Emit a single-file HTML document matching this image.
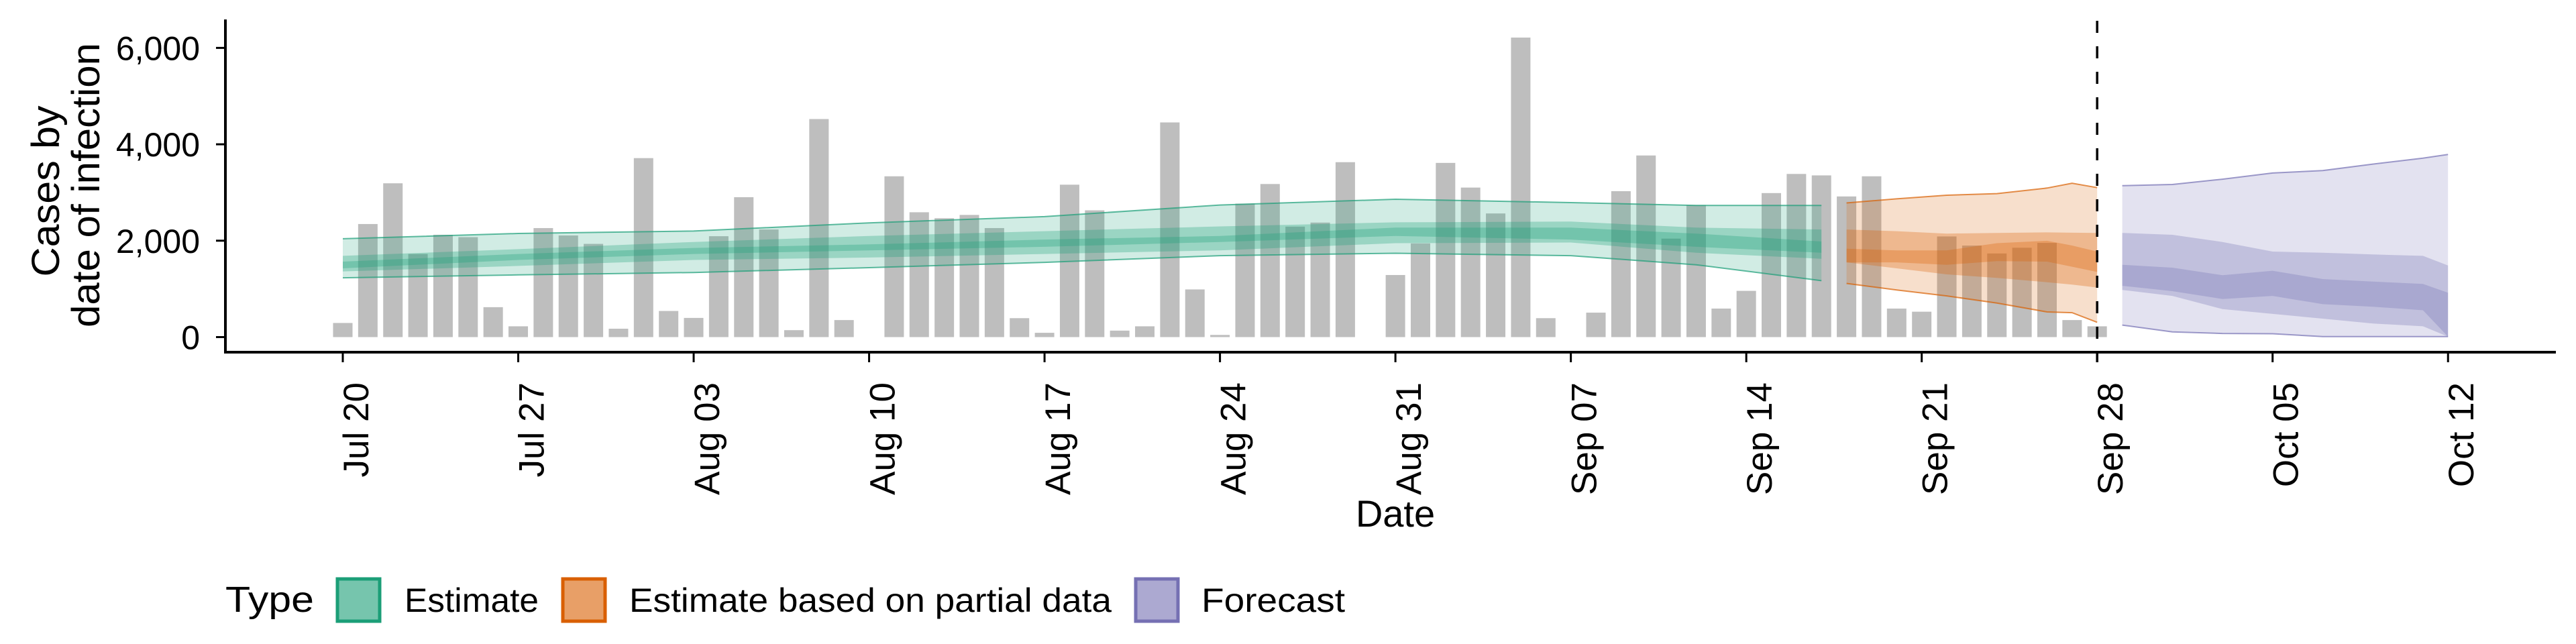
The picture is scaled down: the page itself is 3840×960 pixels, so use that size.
<!DOCTYPE html>
<html><head><meta charset="utf-8"><style>
html,body{margin:0;padding:0;background:#fff;}
svg{display:block;font-family:"Liberation Sans",Arial,sans-serif;}
</style></head><body>
<svg id="chart" width="3840" height="960" viewBox="0 0 3840 960" xmlns="http://www.w3.org/2000/svg">
<g id="bars"></g>
<g id="ribbons"></g>
<g id="axes"></g>
<text transform="translate(88,285) rotate(-90)" text-anchor="middle" font-size="58" textLength="255" lengthAdjust="spacingAndGlyphs">Cases by</text>
<text transform="translate(148,276) rotate(-90)" text-anchor="middle" font-size="58" textLength="424" lengthAdjust="spacingAndGlyphs">date of infection</text>
<text x="2080" y="785" text-anchor="middle" font-size="56">Date</text>
<g>
<text x="336" y="912" font-size="54" textLength="132" lengthAdjust="spacingAndGlyphs">Type</text>
<rect x="503" y="863" width="63" height="63" fill="rgba(27,158,119,0.6)" stroke="#1b9e77" stroke-width="5"/>
<text x="603" y="912" font-size="50" textLength="200" lengthAdjust="spacingAndGlyphs">Estimate</text>
<rect x="839" y="863" width="63" height="63" fill="rgba(217,95,2,0.6)" stroke="#d95f02" stroke-width="5"/>
<text x="938" y="912" font-size="50" textLength="719" lengthAdjust="spacingAndGlyphs">Estimate based on partial data</text>
<rect x="1693" y="863" width="63" height="63" fill="rgba(117,112,179,0.6)" stroke="#7570b3" stroke-width="5"/>
<text x="1791" y="912" font-size="50" textLength="214" lengthAdjust="spacingAndGlyphs">Forecast</text>
</g>
</svg>
<script>
// ---- data ----
const barValues = [293,2346,3191,1725,2123,2073,621,224,2262,2108,1934,174,3713,542,398,2093,2903,2232,144,4524,353,
0,3336,2590,2466,2535,2262,393,89,3162,2630,134,224,4454,989,45,2769,3176,2292,2376,3629,0,1288,1944,3614,3102,2565,6214,393,0,
507,3027,3768,2043,2739,592,959,2988,3385,3355,2918,3336,592,527,2088,1899,1735,1854,1954,353,224];
const yTicks = [0,2000,4000,6000];
const yTickLabels = ["0","2,000","4,000","6,000"];
const xTickDays = [0,7,14,21,28,35,42,49,56,63,70,77,84];
const xTickLabels = ["Jul 20","Jul 27","Aug 03","Aug 10","Aug 17","Aug 24","Aug 31","Sep 07","Sep 14","Sep 21","Sep 28","Oct 05","Oct 12"];
const forecastStartDay = 70;

const estDays = [0,7,14,21,28,35,42,49,54,59];
const estHi90 = [2040,2150,2200,2370,2500,2740,2860,2790,2730,2730];
const estLo90 = [1230,1290,1340,1440,1550,1690,1740,1690,1500,1170];
const estHi50 = [1685,1824,1973,2098,2197,2297,2381,2396,2272,2232];
const estLo50 = [1362,1476,1600,1650,1725,1800,1949,1963,1750,1625];
const estHi20 = [1566,1725,1850,1924,2023,2098,2272,2272,2147,1983];
const estLo20 = [1427,1600,1725,1800,1874,1973,2098,2023,1874,1750];

const parDays = [60,62,64,66,68,69,70];
const parHi90 = [2783,2868,2943,2977,3092,3191,3101];
const parLo90 = [1113,979,855,706,522,507,308];
const parHi50 = [2232,2197,2147,2162,2172,2165,2162];
const parLo50 = [1551,1427,1302,1228,1138,1090,1029];
const parHi20 = [1834,1799,1799,1948,1998,1900,1775];
const parLo20 = [1551,1551,1501,1576,1566,1460,1352];

const fcDays = [71,73,75,77,79,81,83,84];
const fcHi90 = [3141,3166,3276,3405,3455,3589,3713,3788];
const fcLo90 = [249,109,75,70,10,10,10,10];
const fcHi50 = [2162,2123,1973,1775,1750,1715,1685,1486];
const fcLo50 = [979,855,582,482,383,283,224,10];
const fcHi20 = [1501,1440,1283,1377,1204,1153,1103,920];
const fcLo20 = [1064,954,790,855,683,631,557,10];

// ---- scales ----
const X0 = 511, DX = 37.36;
const xs = d => X0 + d * DX;
const ys = v => 502.5 - v * (431.1 / 6000);
const NS = "http://www.w3.org/2000/svg";
function mk(tag, attrs, parent){const e=document.createElementNS(NS,tag);for(const k in attrs)e.setAttribute(k,attrs[k]);parent.appendChild(e);return e;}

// bars
const gb = document.getElementById('bars');
barValues.forEach((v,i)=>{
  if(v<=0) return;
  const r = mk('rect',{x:xs(i)-14.5,y:ys(v),width:29,height:ys(0)-ys(v),fill:'#bebebe'},gb);
  
  
});

// ribbons
const gr = document.getElementById('ribbons');
function band(days,hi,lo,color,alpha,name,edge){
  let pts = days.map((d,i)=>xs(d).toFixed(1)+','+ys(hi[i]).toFixed(1));
  for(let i=days.length-1;i>=0;i--) pts.push(xs(days[i]).toFixed(1)+','+ys(lo[i]).toFixed(1));
  const p = mk('polygon',{points:pts.join(' '),fill:color,'fill-opacity':alpha},gr);
  
  
  if(edge){
    ['hi','lo'].forEach(k=>{
      const arr = k==='hi'?hi:lo;
      const l = mk('polyline',{points:days.map((d,i)=>xs(d).toFixed(1)+','+ys(arr[i]).toFixed(1)).join(' '),fill:'none',stroke:color,'stroke-width':2,'stroke-opacity':0.7},gr);
      
      
    });
  }
}
const series = [
  [estDays,estHi90,estLo90,estHi50,estLo50,estHi20,estLo20,'#1b9e77','estimate'],
  [parDays,parHi90,parLo90,parHi50,parLo50,parHi20,parLo20,'#d95f02','partial'],
  [fcDays,fcHi90,fcLo90,fcHi50,fcLo50,fcHi20,fcLo20,'#7570b3','forecast']
];
series.forEach(s=>{
  band(s[0],s[1],s[2],s[7],0.2,s[8]+'-ribbon-90',true);
  band(s[0],s[3],s[4],s[7],0.3,s[8]+'-ribbon-50',false);
  band(s[0],s[5],s[6],s[7],0.3,s[8]+'-ribbon-20',false);
});

// axes
const ga = document.getElementById('axes');
let e;
e = mk('line',{x1:336,y1:29,x2:336,y2:527,stroke:'#000','stroke-width':4},ga);
 
e = mk('line',{x1:334,y1:525,x2:3810,y2:525,stroke:'#000','stroke-width':4},ga);
 
yTicks.forEach((v,i)=>{
  const t = mk('line',{x1:322,y1:ys(v),x2:336,y2:ys(v),stroke:'#000','stroke-width':3},ga);
   
  const lb = mk('text',{x:298,y:ys(v)+18,'text-anchor':'end','font-size':50},ga);
  lb.textContent = yTickLabels[i];
   
});
xTickDays.forEach((d,i)=>{
  const t = mk('line',{x1:xs(d),y1:525,x2:xs(d),y2:540,stroke:'#000','stroke-width':3},ga);
   
  const lb = mk('text',{transform:`translate(${xs(d)+38},570) rotate(-90)`,'text-anchor':'end','font-size':53},ga);
  lb.textContent = xTickLabels[i];
   
});
e = mk('line',{x1:xs(forecastStartDay),y1:31,x2:xs(forecastStartDay),y2:540,stroke:'#000','stroke-width':3.5,'stroke-dasharray':'18 20'},ga);
 
</script>
</body></html>
